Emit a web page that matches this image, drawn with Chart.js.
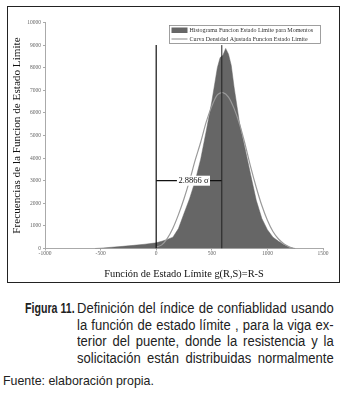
<!DOCTYPE html>
<html lang="es">
<head>
<meta charset="UTF-8">
<title>Figura 11</title>
<script src="https://cdn.jsdelivr.net/npm/chart.js"></script>
<style>
  body { margin: 0; background: #fff; width: 347px; height: 405px; position: relative; overflow: hidden; }
  #frame { position: absolute; left: 7px; top: 6px; width: 331px; height: 275px; border: 1px solid #222; }
  #wrap { position: absolute; left: 0; top: 0; width: 347px; height: 285px; }
  .cap { position: absolute; font-family: "Liberation Sans", Arial, sans-serif; font-size: 14px; line-height: 16.5px; color: #222; transform-origin: 0 0; white-space: nowrap; }
  #fig-no { left: 25px; top: 300px; font-weight: bold; transform: scaleX(0.76); }
  #fig-txt { left: 76.5px; top: 300px; width: 276px; transform: scaleX(0.93); }
  #fig-txt div { text-align: justify; text-align-last: justify; }
  .src { position: absolute; left: 3px; top: 374px; font-family: "Liberation Sans", Arial, sans-serif; font-size: 12.4px; color: #222; white-space: nowrap; }
</style>
</head>
<body>
<div id="frame"></div>
<div id="wrap"><canvas id="fig"></canvas></div>
<div class="cap" id="fig-no">Figura 11.</div>
<div class="cap" id="fig-txt">
  <div>Definición del índice de confiablidad usando</div>
  <div>la función de estado límite , para la viga ex-</div>
  <div>terior del puente, donde la resistencia y la</div>
  <div>solicitación están distribuidas normalmente</div>
</div>
<div class="src">Fuente: elaboración propia.</div>

<script>
// histogram of g(R,S)
const histX = [-550, -500, -400, -300, -200, -100, 0, 50, 100, 150, 200, 250, 300, 350, 400, 450, 500, 550, 575, 600, 625, 650, 675, 700, 750, 800, 850, 900, 950, 1000, 1050, 1100, 1150, 1200, 1250];
const histY = [0, 15, 55, 95, 140, 190, 250, 320, 400, 500, 880, 1550, 2200, 2980, 3950, 5200, 6500, 8000, 8450, 8550, 8850, 8600, 8100, 7150, 5530, 4400, 3250, 2130, 1330, 830, 500, 320, 170, 60, 0];

// fitted density curve
const curveX = [0, 50, 100, 150, 200, 250, 300, 350, 400, 450, 500, 550, 600, 650, 700, 750, 800, 850, 900, 950, 1000, 1050, 1100, 1150, 1200, 1230];
const curveY = [60, 160, 450, 900, 1500, 2200, 3000, 3900, 4700, 5600, 6300, 6800, 6900, 6700, 6200, 5500, 4600, 3600, 2700, 1900, 1250, 750, 420, 200, 60, 0];

// reference lines
const zeroX = 0;
const meanX = 590;
const lineTop = 9000;
const betaY = 3000;
const betaLabel = '2.8866 σ';
const betaLabelX = 335;

const xTicks = [-1000, -500, 0, 500, 1000, 1500];
const legendLabels = ['Histograma Funcion Estado Limite para Momentos', 'Curva Densidad Ajustada Funcion Estado Limite'];

const SERIF = '"Liberation Serif", "Times New Roman", serif';
const histColor = '#666666';
const curveColor = '#9a9a9a';

const pts = (xs, ys) => xs.map((x, i) => ({ x: x, y: ys[i] }));

// label on the beta line + boxed legend
const extras = {
  id: 'extras',
  afterDatasetsDraw(chart) {
    const { ctx, scales: { x, y }, chartArea } = chart;
    ctx.save();
    // beta label
    ctx.font = '8.5px ' + SERIF;
    const tw = ctx.measureText(betaLabel).width;
    const lx = x.getPixelForValue(betaLabelX), ly = y.getPixelForValue(betaY);
    ctx.fillStyle = '#fff';
    ctx.fillRect(lx - tw / 2 - 1.5, ly - 5, tw + 3, 10);
    ctx.fillStyle = '#111';
    ctx.textAlign = 'center';
    ctx.textBaseline = 'middle';
    ctx.fillText(betaLabel, lx, ly + 0.5);

    // legend
    const bw = 152, bh = 19;
    const bx = chartArea.right - 2 - bw, by = chartArea.top + 2.5;
    ctx.fillStyle = '#fff';
    ctx.fillRect(bx, by, bw, bh);
    ctx.strokeStyle = '#888';
    ctx.lineWidth = 0.8;
    ctx.strokeRect(bx + 0.5, by + 0.5, bw - 1, bh - 1);
    ctx.fillStyle = histColor;
    ctx.fillRect(bx + 2.5, by + 2.5, 16, 5.5);
    ctx.strokeStyle = curveColor;
    ctx.lineWidth = 1.2;
    ctx.beginPath();
    ctx.moveTo(bx + 2.5, by + 14);
    ctx.lineTo(bx + 18.5, by + 14);
    ctx.stroke();
    ctx.fillStyle = '#333';
    ctx.textAlign = 'left';
    ctx.font = '6px ' + SERIF;
    ctx.fillText(legendLabels[0], bx + 20.5, by + 5.5);
    ctx.fillText(legendLabels[1], bx + 20.5, by + 14);
    ctx.restore();
  }
};

new Chart(document.getElementById('fig'), {
  type: 'line',
  data: {
    datasets: [
      { label: legendLabels[0], data: pts(histX, histY), fill: 'origin', backgroundColor: histColor, borderColor: histColor, borderWidth: 0.5, pointRadius: 0, order: 5 },
      { label: legendLabels[1], data: pts(curveX, curveY), fill: false, borderColor: curveColor, borderWidth: 1.2, pointRadius: 0, tension: 0.3, order: 4 },
      { label: 'cero', data: [{ x: zeroX, y: 0 }, { x: zeroX, y: lineTop }], borderColor: '#111', borderWidth: 1.2, pointRadius: 0, order: 1 },
      { label: 'media', data: [{ x: meanX, y: 0 }, { x: meanX, y: lineTop }], borderColor: '#222', borderWidth: 1, pointRadius: 0, order: 1 },
      { label: 'beta', data: [{ x: zeroX, y: betaY }, { x: meanX, y: betaY }], borderColor: '#111', borderWidth: 1.2, pointRadius: 0, order: 1 }
    ]
  },
  options: {
    responsive: true,
    maintainAspectRatio: false,
    animation: false,
    layout: { padding: { top: 22.5, right: 24, left: 0, bottom: 0 } },
    plugins: { legend: { display: false }, tooltip: { enabled: false } },
    scales: {
      x: {
        type: 'linear', min: -1000, max: 1500,
        afterBuildTicks: s => { s.ticks = xTicks.map(v => ({ value: v })); },
        afterFit: s => { s.height = 36.5; },
        grid: { display: true, drawOnChartArea: false, tickLength: 2, color: '#aaa' },
        border: { color: '#aaa', width: 1 },
        ticks: { color: '#666', padding: 0, font: { family: SERIF, size: 5.5 }, maxRotation: 0, callback: v => String(v) },
        title: { display: true, text: 'Función de Estado Límite g(R,S)=R-S', color: '#111', font: { family: SERIF, size: 10.4 }, padding: { top: 13.5 } }
      },
      y: {
        min: 0, max: 10000,
        ticks: { stepSize: 1000, color: '#666', padding: 2, font: { family: SERIF, size: 5.5 }, callback: v => String(v) },
        afterFit: s => { s.width = 45; },
        grid: { display: true, drawOnChartArea: false, tickLength: 2, color: '#aaa' },
        border: { color: '#aaa', width: 1 },
        title: { display: true, text: 'Frecuencias de la Funcion de Estado Limite', color: '#111', font: { family: SERIF, size: 11.2 }, padding: { top: 10 } }
      }
    }
  },
  plugins: [extras]
});
</script>
</body>
</html>
